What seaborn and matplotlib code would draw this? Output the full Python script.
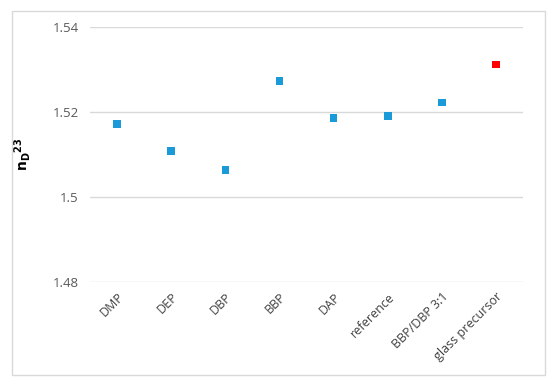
import pandas as pd
import seaborn as sns
import matplotlib.pyplot as plt
from matplotlib.patches import Rectangle

samples = ['DMP', 'DEP', 'DBP', 'BBP', 'DAP', 'reference', 'BBP/DBP 3:1', 'glass precursor']
n_d23 = [1.5172, 1.5108, 1.5063, 1.5273, 1.5186, 1.5190, 1.5222, 1.5312]
groups = ['plasticizer'] * 7 + ['precursor']

if __name__ == '__main__':
    data = pd.DataFrame({'sample': samples, 'nd': n_d23, 'group': groups})

    sns.set_style('white')
    plt.rcParams['font.family'] = ['Open Sans', 'DejaVu Sans']

    fig = plt.figure(figsize=(5.5, 3.83), dpi=100)
    ax = fig.add_axes([0.1636, 0.2637, 0.7874, 0.6658])

    sns.scatterplot(data=data, x='sample', y='nd', hue='group',
                    palette={'plasticizer': '#1a9ad8', 'precursor': '#ff0000'},
                    marker='s', s=30, linewidth=0, legend=False, ax=ax, zorder=3)

    ax.set_xlim(-0.5, len(samples) - 0.5)
    ax.set_ylim(1.48, 1.54)
    ax.set_yticks([1.48, 1.5, 1.52, 1.54])
    ax.set_yticklabels(['1.48', '1.5', '1.52', '1.54'])
    ax.yaxis.grid(True, color='#d9d9d9', linewidth=1)
    ax.set_axisbelow(True)
    for s in ax.spines.values():
        s.set_visible(False)
    ax.tick_params(axis='y', length=0, labelsize=9.5, colors='#595959', pad=8)
    ax.tick_params(axis='x', length=0, labelsize=9, colors='#404040', pad=6)
    plt.setp(ax.get_xticklabels(), rotation=45, ha='right', rotation_mode='anchor')

    ax.set_xlabel('')
    ax.set_ylabel(r'$\mathbf{n_D}^{\mathbf{23}}$', fontsize=10, color='black', labelpad=14)

    fig.patches.append(Rectangle((0.022, 0.02), 0.968, 0.95, transform=fig.transFigure,
                                 fill=False, edgecolor='#d9d9d9', linewidth=1))

    plt.savefig('out.png', dpi=100)
